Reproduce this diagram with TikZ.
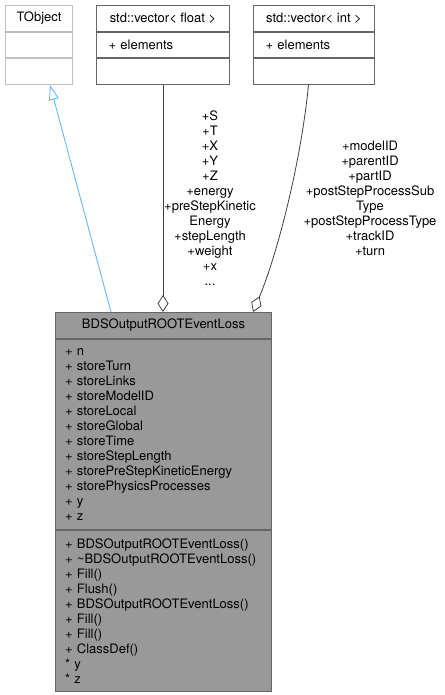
\documentclass[tikz,border=0pt]{standalone}
\usepackage{fontspec}
\setmainfont{TeX Gyre Heros}
\usetikzlibrary{arrows.meta, positioning}

\definecolor{boxline}{HTML}{666666}
\definecolor{lightline}{HTML}{BFBFBF}
\definecolor{lossfill}{HTML}{999999}
\definecolor{inheritblue}{HTML}{63B8FF}
\definecolor{composegray}{HTML}{404040}

\tikzset{
  classtitle/.style={draw=boxline, line width=1pt, minimum height=26pt, inner sep=0pt, align=center},
  classbody/.style={draw=boxline, line width=1pt, inner ysep=0pt, align=left},
  inherit/.style={draw=inheritblue, line width=0.9pt, -{Triangle[open, length=15pt, width=10pt]}},
  compose/.style={draw=composegray, line width=0.8pt, -{Diamond[open, length=17pt, width=11pt]}},
  edgelabel/.style={align=center, inner sep=0pt}
}

\begin{document}
\begin{tikzpicture}[x=1pt, y=-1pt, font=\fontsize{13}{15}\selectfont]
\useasboundingbox (0,0) rectangle (444,695);

\node[classtitle, draw=lightline, minimum width=67pt, anchor=north west] (tobj) at (5,5) {TObject};
\node[classbody, draw=lightline, below=0pt of tobj, minimum width=67pt, minimum height=25.5pt] (tobjattr) {};
\node[classbody, draw=lightline, below=0pt of tobjattr, minimum width=67pt, minimum height=25.5pt] (tobjops) {};

\node[classtitle, minimum width=133pt, anchor=north west] (floatvec) at (96,5) {std::vector< float >};
\node[classbody, below=0pt of floatvec, inner xsep=12pt, text width=109pt, minimum height=25.5pt] (floatattr) {+ elements};
\node[classbody, below=0pt of floatattr, minimum width=133pt, minimum height=25.5pt] (floatops) {};

\node[classtitle, minimum width=121pt, anchor=north west] (intvec) at (253,5) {std::vector< int >};
\node[classbody, below=0pt of intvec, inner xsep=12pt, text width=97pt, minimum height=25.5pt] (intattr) {+ elements};
\node[classbody, below=0pt of intattr, minimum width=121pt, minimum height=25.5pt] (intops) {};

\begin{scope}[fill=lossfill]
\node[classtitle, fill=lossfill, minimum width=216pt, anchor=north west] (loss) at (55,312) {BDSOutputROOTEventLoss};
\node[classbody, fill=lossfill, below=0pt of loss, inner xsep=9.5pt, text width=197pt, minimum height=190pt] (lossattr) {+ n\\+ storeTurn\\+ storeLinks\\+ storeModelID\\+ storeLocal\\+ storeGlobal\\+ storeTime\\+ storeStepLength\\+ storePreStepKineticEnergy\\+ storePhysicsProcesses\\+ y\\+ z};
\node[classbody, fill=lossfill, below=0pt of lossattr, inner xsep=9.5pt, text width=197pt, minimum height=161pt] (lossops) {+ BDSOutputROOTEventLoss()\\+ \textasciitilde BDSOutputROOTEventLoss()\\+ Fill()\\+ Flush()\\+ BDSOutputROOTEventLoss()\\+ Fill()\\+ Fill()\\+ ClassDef()\\{*} y\\{*} z};
\end{scope}

\draw[inherit] ([xshift=56pt]loss.north west) -- ([xshift=11pt]tobjops.south);
\draw[compose] (floatops.south) -- (floatops.south |- loss.north);
\draw[compose] ([xshift=-5.5pt]intops.south) .. controls (300,170) and (275,260) .. ([xshift=198pt]loss.north west);

\node[edgelabel] (floatlbl) at (210,198) {+S\\+T\\+X\\+Y\\+Z\\+energy\\+preStepKinetic\\Energy\\+stepLength\\+weight\\+x\\...};
\node[edgelabel] (intlbl) at (370,198) {+modelID\\+parentID\\+partID\\+postStepProcessSub\\Type\\+postStepProcessType\\+trackID\\+turn};
\end{tikzpicture}
\end{document}
